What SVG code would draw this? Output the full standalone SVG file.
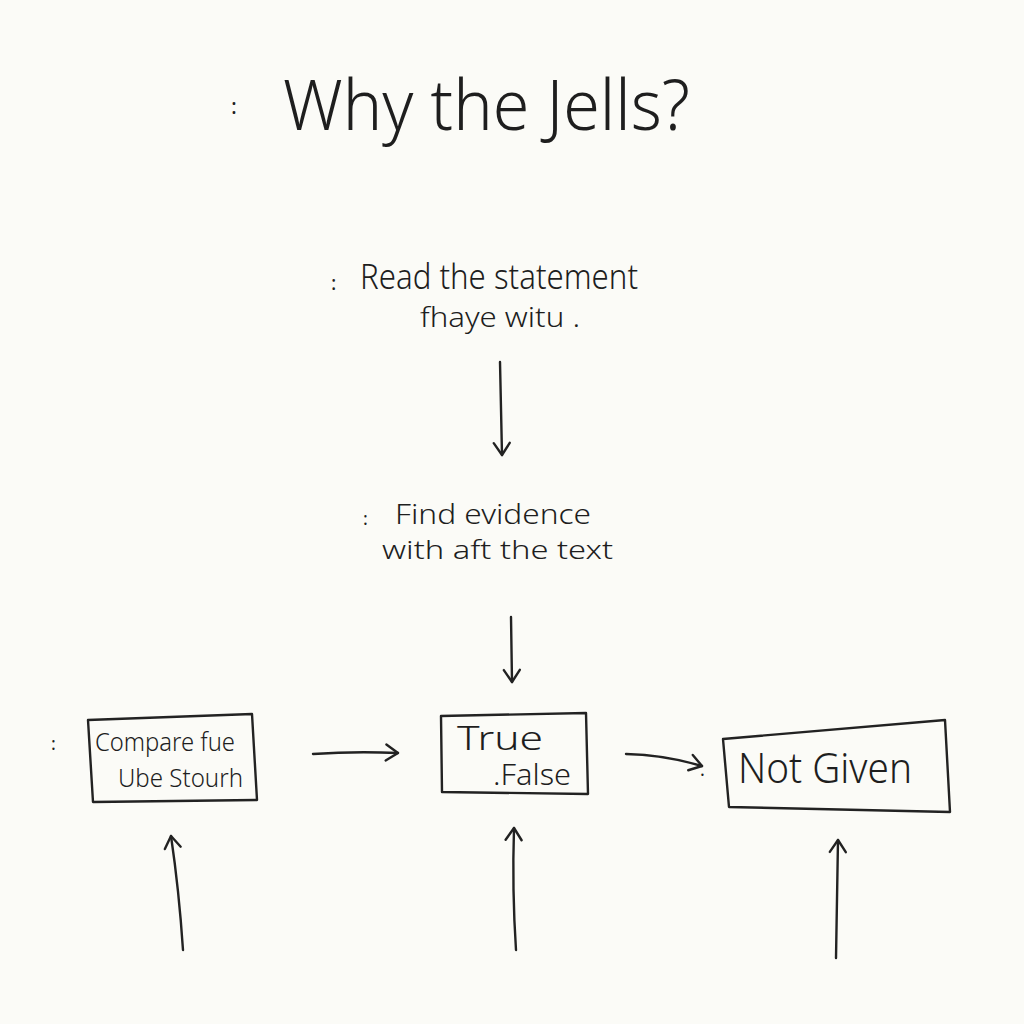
<svg xmlns="http://www.w3.org/2000/svg" width="1024" height="1024" viewBox="0 0 1024 1024">
  <style>
    .t { font-family: "Noto Sans", "Liberation Sans", sans-serif; fill: #1e1e1e; }
    .ln { fill: none; stroke: #222; stroke-width: 2.4; stroke-linecap: round; stroke-linejoin: round; }
    .box { fill: none; stroke: #222; stroke-width: 2.4; stroke-linejoin: round; }
  </style>
  <defs>
    <marker id="ah" viewBox="0 0 20 20" refX="16" refY="10" markerWidth="20" markerHeight="20" markerUnits="userSpaceOnUse" orient="auto">
      <path d="M4 2 L16 10 L4 18" fill="none" stroke="#222" stroke-width="2.4" stroke-linecap="round" stroke-linejoin="round"/>
    </marker>
  </defs>
  <rect width="1024" height="1024" fill="#fbfbf7"/>

  <g id="title">
    <text class="t" x="231" y="114" font-size="22">:</text>
    <text class="t" x="283" y="130" font-size="70" font-weight="300" textLength="407" lengthAdjust="spacingAndGlyphs">Why the Jells?</text>
  </g>

  <g id="step-read">
    <text class="t" x="331" y="290" font-size="20">:</text>
    <text class="t" x="360" y="289" font-size="34" font-weight="300" textLength="278" lengthAdjust="spacingAndGlyphs">Read the statement</text>
    <text class="t" x="420" y="327" font-size="27" font-weight="300" textLength="160" lengthAdjust="spacingAndGlyphs">fhaye witu .</text>
  </g>

  <g id="step-find">
    <text class="t" x="363" y="525" font-size="18">:</text>
    <text class="t" x="395" y="524" font-size="28" font-weight="300" textLength="196" lengthAdjust="spacingAndGlyphs">Find evidence</text>
    <text class="t" x="382" y="559" font-size="26" font-weight="300" textLength="231" lengthAdjust="spacingAndGlyphs">with aft the text</text>
  </g>

  <g id="node-compare">
    <text class="t" x="51" y="750" font-size="18">:</text>
    <path class="box" d="M88 720 L252 714 L257 800 L93 802 Z"/>
    <text class="t" x="95" y="751" font-size="25" font-weight="300" textLength="140" lengthAdjust="spacingAndGlyphs">Compare fue</text>
    <text class="t" x="118" y="787" font-size="25" font-weight="300" textLength="125" lengthAdjust="spacingAndGlyphs">Ube Stourh</text>
  </g>

  <g id="node-truefalse">
    <path class="box" d="M441 716 L586 713 L588 794 L442 792 Z"/>
    <text class="t" x="457" y="750" font-size="33" font-weight="300" textLength="86" lengthAdjust="spacingAndGlyphs">True</text>
    <text class="t" x="493" y="785" font-size="29" font-weight="300" textLength="78" lengthAdjust="spacingAndGlyphs">.False</text>
  </g>

  <g id="node-notgiven">
    <text class="t" x="700" y="776" font-size="18">.</text>
    <path class="box" d="M723 739 L945 720 L950 812 L729 807 Z"/>
    <text class="t" x="738" y="783" font-size="42" font-weight="300" textLength="174" lengthAdjust="spacingAndGlyphs">Not Given</text>
  </g>

  <g id="connectors">
    <path class="ln" d="M500 362 Q501 410 502 455" marker-end="url(#ah)"/>
    <path class="ln" d="M511 617 L512 682" marker-end="url(#ah)"/>
    <path class="ln" d="M313 754 Q355 751 398 753" marker-end="url(#ah)"/>
    <path class="ln" d="M626 754 Q665 755 702 766" marker-end="url(#ah)"/>
    <path class="ln" d="M183 950 Q179 890 171 836" marker-end="url(#ah)"/>
    <path class="ln" d="M516 950 Q512 890 514 828" marker-end="url(#ah)"/>
    <path class="ln" d="M836 958 L838 840" marker-end="url(#ah)"/>
  </g>
</svg>
